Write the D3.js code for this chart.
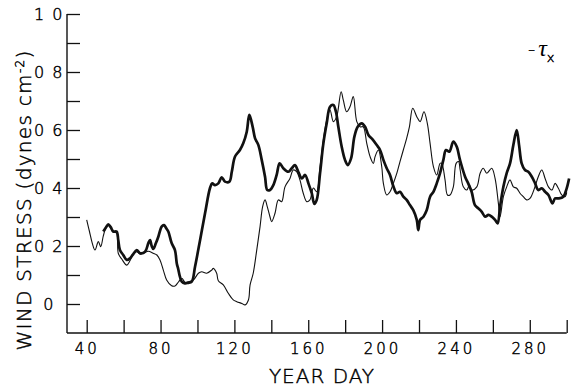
<!DOCTYPE html>
<html><head><meta charset="utf-8">
<script src="https://cdn.jsdelivr.net/npm/d3@7"></script>
<style>
body{margin:0;background:#fff;}
text{font-family:"DejaVu Sans",sans-serif;fill:#000;}
.ink{stroke:#000;stroke-width:0.45px;}
</style></head>
<body><svg id="c" width="577" height="390"></svg>
<script>
// Heavy curve (year day, wind stress)
const heavyDay = [49,50.5,51.7,53,54.4,56.2,57.1,58,59.8,61.7,63.5,65,67.1,68.9,71.6,73.4,74.3,75.2,76.1,77.5,78.8,80.6,81.9,83,84.2,86,87.8,88.8,89.6,90.5,91.5,93.2,95,96.9,98.7,101.4,104.1,106.8,108,109.5,111.3,113.1,114.9,117.3,118.6,120.3,123,124.8,126.7,128.1,129.9,131.2,133,134.8,136.6,137.8,139.3,141.1,142.9,144.5,146.5,149.2,151.1,152.8,154.6,156.5,158.3,160.1,161.9,163.3,164.6,166.4,168.2,170,171.8,173.6,175,176.3,178.1,179.9,181.4,183.2,185,186.8,189,190.8,192.6,194.5,197.1,198.9,200.7,202.5,204.3,206.2,208,209.7,211.5,213.3,215.1,216.9,218.8,219.6,220.6,222.4,224.2,226,227.8,229.6,231.4,233.2,234.6,236.4,238.6,240.4,242.2,244.9,246.7,248.5,250.3,252.1,254,255.8,257.6,259.4,261.2,262.6,263.9,265.7,267.5,269.3,271.1,272.9,274.2,275.6,277.4,279.2,281.1,282.9,284.6,286.5,288.3,290.1,292.3,293.7,295.5,298.2,300,301.3];
const heavyStress = [0.25,0.265,0.275,0.265,0.25,0.25,0.22,0.186,0.169,0.152,0.158,0.17,0.186,0.175,0.18,0.21,0.22,0.2,0.19,0.21,0.232,0.267,0.272,0.262,0.25,0.21,0.186,0.14,0.12,0.094,0.077,0.071,0.073,0.077,0.129,0.22,0.313,0.40,0.416,0.41,0.416,0.437,0.422,0.422,0.456,0.508,0.531,0.554,0.594,0.652,0.611,0.571,0.548,0.497,0.439,0.393,0.393,0.41,0.445,0.485,0.468,0.456,0.468,0.479,0.456,0.433,0.445,0.416,0.382,0.345,0.359,0.451,0.554,0.623,0.680,0.686,0.663,0.611,0.543,0.497,0.479,0.502,0.577,0.611,0.623,0.611,0.583,0.57,0.548,0.531,0.497,0.468,0.445,0.404,0.382,0.387,0.37,0.359,0.341,0.324,0.29,0.255,0.29,0.301,0.324,0.37,0.387,0.416,0.451,0.497,0.531,0.525,0.56,0.543,0.497,0.44,0.415,0.387,0.341,0.33,0.318,0.301,0.307,0.301,0.29,0.278,0.336,0.404,0.451,0.485,0.548,0.60,0.548,0.485,0.462,0.456,0.439,0.416,0.393,0.399,0.387,0.376,0.347,0.364,0.364,0.37,0.399,0.433];
// Light curve
const lightDay = [40,41.5,43,44.5,46.3,47.6,49,50.5,51.7,53,54.4,56.2,57.1,59,61.7,63.5,65,67.1,69,71.6,73.4,76,78,79.7,81.5,83.3,86,87.8,89.6,91.5,93.2,95,97.8,100.5,102.3,105,107.7,108.6,110.4,111.3,114,116.7,119.4,121.3,124,125.8,127.6,128.5,130.2,132.1,133.9,135.3,136.6,137.8,139.3,140.2,142,143.8,145.6,147.4,150.1,151.9,153.8,155.5,157.3,159.2,160.9,162.8,164.6,166.4,168.2,170,171.8,173.6,175.4,177.8,179,180.8,182.6,184.4,186.3,188.1,189.8,191.7,193.5,195.3,196.2,198,199.8,200.7,202.5,204.3,206.1,208,209.7,211.5,213.3,214.8,216.6,218.8,220.6,222.7,224.5,226,227.8,229.6,231.4,232.3,234.1,235.4,236.8,238.6,240.1,241.4,242.3,244,245.9,247.3,248.5,251.3,253.1,254.8,256.7,259.4,261.2,263,263.9,265.7,267.5,269.3,271.1,272.9,274.7,276.5,278.3,280.1,282.8,284.6,286.5,288.3,290.1,292,293.7,295.5,297.3,299.1,300];
const lightStress = [0.29,0.25,0.21,0.186,0.215,0.198,0.235,0.265,0.272,0.262,0.248,0.245,0.175,0.155,0.134,0.15,0.169,0.18,0.172,0.178,0.182,0.175,0.169,0.152,0.117,0.083,0.063,0.062,0.075,0.089,0.075,0.077,0.083,0.106,0.111,0.106,0.117,0.123,0.106,0.08,0.066,0.037,0.014,0.008,0.002,-0.003,0.014,0.066,0.106,0.186,0.267,0.336,0.359,0.336,0.30,0.284,0.313,0.359,0.353,0.404,0.433,0.462,0.456,0.428,0.382,0.353,0.359,0.40,0.387,0.474,0.566,0.634,0.669,0.629,0.646,0.732,0.703,0.663,0.680,0.715,0.629,0.611,0.611,0.554,0.508,0.485,0.508,0.531,0.474,0.416,0.376,0.387,0.416,0.451,0.491,0.531,0.571,0.611,0.675,0.646,0.629,0.663,0.623,0.554,0.474,0.445,0.485,0.485,0.428,0.376,0.376,0.404,0.485,0.491,0.462,0.404,0.393,0.41,0.393,0.404,0.451,0.468,0.451,0.468,0.433,0.347,0.301,0.37,0.404,0.428,0.404,0.399,0.382,0.37,0.359,0.364,0.404,0.439,0.462,0.433,0.404,0.393,0.416,0.399,0.376,0.37,0.385];

const xTicks = [40,60,80,100,120,140,160,180,200,220,240,260,280,300];
const xLabelTicks = [40,80,120,160,200,240,280];
const yTicks = [0,0.1,0.2,0.3,0.4,0.5,0.6,0.7,0.8,0.9,1.0];
const yLabels = {"0":"0","0.2":"0 2","0.4":"0 4","0.6":"0 6","0.8":"0 8","1":"1 0"};

const svg = d3.select("#c");
const x = d3.scaleLinear().domain([40,300]).range([86.7,566.7]);
const y = d3.scaleLinear().domain([-0.1,1.0]).range([333,14]);
const axisX0 = 67, axisY0 = 333;
const ink = "#111";

// x axis
const gx = svg.append("g").attr("transform",`translate(0,${axisY0})`)
  .call(d3.axisBottom(x).tickValues(xTicks).tickSizeInner(-13).tickSizeOuter(0).tickPadding(10)
    .tickFormat(d => xLabelTicks.includes(d) ? String(d) : ""));
gx.select(".domain").remove();
gx.selectAll(".tick line").attr("stroke",ink).attr("stroke-width",1.3);
gx.selectAll(".tick text").attr("class","ink").attr("font-size",15).attr("letter-spacing",3).attr("fill","#000")
  .attr("font-family","DejaVu Sans").attr("font-weight",200);

// y axis
const gy = svg.append("g").attr("transform",`translate(${axisX0},0)`)
  .call(d3.axisLeft(y).tickValues(yTicks).tickSizeInner(-13).tickSizeOuter(0).tickPadding(9)
    .tickFormat(d => { const k = String(Math.round(d*10)/10); return yLabels[k] !== undefined ? yLabels[k] : ""; }));
gy.select(".domain").remove();
gy.selectAll(".tick line").attr("stroke",ink).attr("stroke-width",1.3);
gy.selectAll(".tick text").attr("class","ink").attr("font-size",16).attr("letter-spacing",1.5).attr("fill","#000")
  .attr("font-family","DejaVu Sans").attr("font-weight",200)
  .attr("text-anchor","middle").attr("x",-18);

// frame lines
svg.append("line").attr("x1",axisX0).attr("x2",x(300)).attr("y1",axisY0).attr("y2",axisY0)
  .attr("stroke",ink).attr("stroke-width",1.4);
svg.append("line").attr("x1",axisX0).attr("x2",axisX0).attr("y1",axisY0).attr("y2",y(1.0))
  .attr("stroke",ink).attr("stroke-width",1.4);

const line = d3.line().x(d=>x(d[0])).y(d=>y(d[1])).curve(d3.curveCatmullRom.alpha(0.5));
svg.append("path").datum(lightDay.map((d,i)=>[d,lightStress[i]]))
  .attr("d",line).attr("fill","none").attr("stroke","#111").attr("stroke-width",1.1);
svg.append("path").datum(heavyDay.map((d,i)=>[d,heavyStress[i]]))
  .attr("d",line).attr("fill","none").attr("stroke","#111").attr("stroke-width",2.7).attr("stroke-linejoin","round");

// titles
svg.append("text").attr("class","ink").attr("x",322).attr("y",383).attr("text-anchor","middle")
  .attr("font-size",20).attr("letter-spacing",1).attr("font-weight",200).text("YEAR DAY");
const yt = svg.append("text").attr("class","ink").attr("transform","translate(31,200) rotate(-90)").attr("text-anchor","middle")
  .attr("font-size",20).attr("letter-spacing",1.3).attr("font-weight",200);
yt.append("tspan").text("WIND STRESS (dynes cm");
yt.append("tspan").attr("font-size",12).attr("dy",-7).text("-2");
yt.append("tspan").attr("dy",7).text(")");

// annotation
const ann = svg.append("text").attr("x",528).attr("y",56).attr("font-size",20).attr("font-weight",200);
ann.append("tspan").attr("class","ink").text("-");
ann.append("tspan").attr("dx",3).attr("font-size",24).attr("font-family","Liberation Serif")
  .attr("font-weight",400).attr("font-style","italic").text("τ");
ann.append("tspan").attr("font-size",13).attr("font-weight",200).attr("class","ink").attr("dy",6).text("x");
</script>
</body></html>
